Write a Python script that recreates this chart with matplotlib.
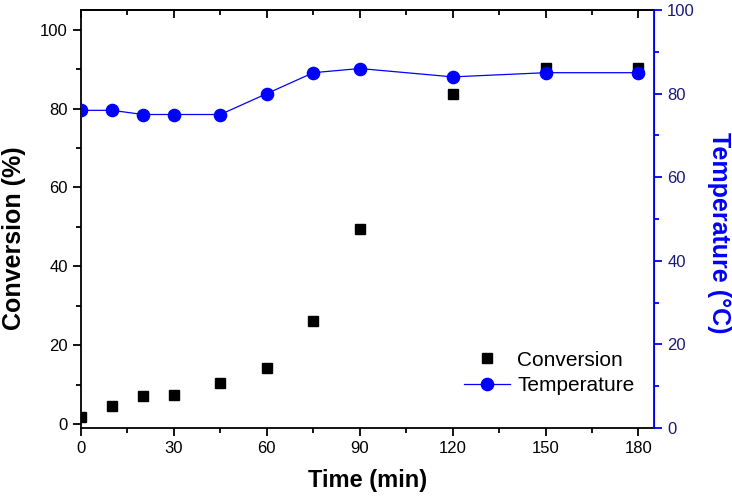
import matplotlib
matplotlib.use("Agg")
import matplotlib.pyplot as plt
from matplotlib.ticker import MultipleLocator

plt.rcParams['font.family'] = ['Liberation Sans', 'DejaVu Sans']

# data
time_min = [0, 10, 20, 30, 45, 60, 75, 90, 120, 150, 180]
conversion = [1.7, 4.6, 7.2, 7.4, 10.5, 14.3, 26.1, 49.5, 83.8, 90.2, 90.3]
temperature = [76, 76, 75, 75, 75, 80, 85, 86, 84, 85, 85]

blue = '#0000ff'
navy = '#1a1a7a'

fig = plt.figure(figsize=(7.32, 5.0), dpi=100)
ax = fig.add_axes([0.1107, 0.144, 0.7827, 0.836])
ax2 = ax.twinx()

l1, = ax.plot(time_min, conversion, 's', color='black', markersize=7.5,
              linestyle='none', label='Conversion')
l2, = ax2.plot(time_min, temperature, '-o', color=blue, markersize=8.8,
               linewidth=0.9, label='Temperature')

ax.set_xlim(0, 185)
ax.set_ylim(-1, 105)
ax2.set_ylim(0, 100)

ax.xaxis.set_major_locator(MultipleLocator(30))
ax.xaxis.set_minor_locator(MultipleLocator(15))
ax.yaxis.set_major_locator(MultipleLocator(20))
ax.yaxis.set_minor_locator(MultipleLocator(10))
ax2.yaxis.set_major_locator(MultipleLocator(20))
ax2.yaxis.set_minor_locator(MultipleLocator(10))

for s in ['left', 'bottom', 'top']:
    ax.spines[s].set_linewidth(1.3)
ax2.spines['right'].set_color(blue)
ax2.spines['right'].set_linewidth(1.3)
for s in ['left', 'bottom', 'top']:
    ax2.spines[s].set_visible(False)

ax.tick_params(axis='both', which='major', direction='out', length=6, width=1.3,
               labelsize=12, right=False)
ax.tick_params(axis='both', which='minor', direction='out', length=3.5, width=1.3,
               right=False)
ax2.tick_params(axis='y', which='major', direction='out', length=6, width=1.3,
                color=blue, labelcolor=navy, labelsize=12)
ax2.tick_params(axis='y', which='minor', direction='out', length=3.5, width=1.3,
                color=blue)

# inward ticks on the top edge, no labels
top = ax.secondary_xaxis('top')
top.xaxis.set_major_locator(MultipleLocator(30))
top.xaxis.set_minor_locator(MultipleLocator(15))
top.tick_params(which='major', direction='in', length=6, width=1.3, labeltop=False)
top.tick_params(which='minor', direction='in', length=3.5, width=1.3)
top.spines['top'].set_linewidth(1.3)

ax.set_xlabel('Time (min)', fontsize=17, fontweight='bold', labelpad=9)
ax.set_ylabel('Conversion (%)', fontsize=18, fontweight='bold', labelpad=10)
ax.yaxis.label.set_y(0.455)
ax2.set_ylabel('Temperature (°C)', fontsize=18, fontweight='bold', color=blue,
               rotation=270, labelpad=26)
ax2.yaxis.label.set_y(0.466)

ax.legend([l1, l2], ['Conversion', 'Temperature'], loc='lower right',
          bbox_to_anchor=(0.999, 0.033), frameon=False, fontsize=15,
          handlelength=2.2, handletextpad=0.35, labelspacing=0.32)

fig.savefig('out.png', dpi=100)
